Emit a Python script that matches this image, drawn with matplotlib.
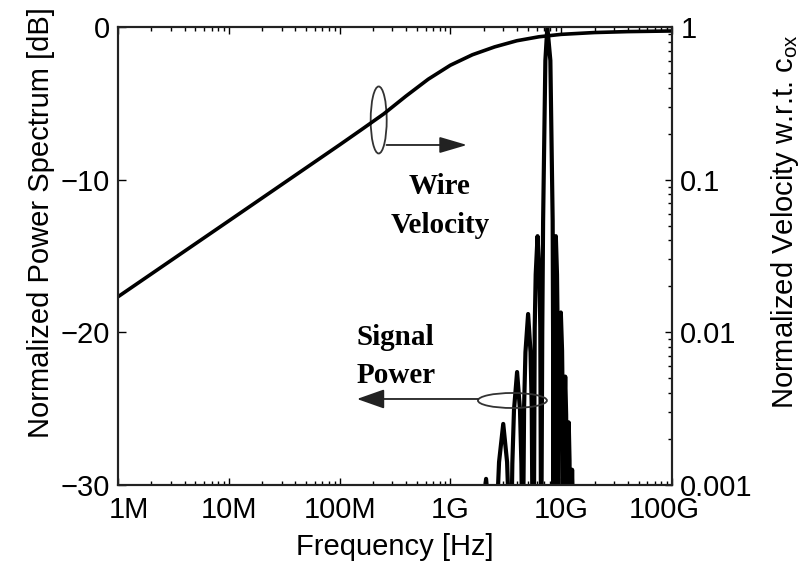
import matplotlib
matplotlib.use('Agg')
import matplotlib.pyplot as plt
from matplotlib.patches import Ellipse
from matplotlib.ticker import NullFormatter
from matplotlib.transforms import ScaledTranslation
import numpy as np

freq_ticks = [1e6, 1e7, 1e8, 1e9, 1e10, 1e11]
freq_labels = ['1M', '10M', '100M', '1G', '10G', '100G']
db_ticks = [-30, -20, -10, 0]
vel_ticks = [0.001, 0.01, 0.1, 1]
vel_labels = ['0.001', '0.01', '0.1', '1']

# wire velocity (normalized to c_ox)
vel_freq = [1e6, 1e7, 1e8, 1.58e8, 2.51e8, 3.98e8, 6.31e8, 1e9, 1.58e9, 2.51e9,
            3.98e9, 6.31e9, 1e10, 2e10, 3.98e10, 1e11]
vel_val = [0.0171, 0.0537, 0.169, 0.213, 0.270, 0.353, 0.455, 0.562, 0.658, 0.741,
           0.813, 0.863, 0.895, 0.920, 0.933, 0.942]

# signal power spectrum lobes [GHz], [dB]
sig_ghz = [1.8, 1.875, 1.95, 2.1, 2.25, 2.325, 2.4,
           2.5, 2.625, 2.75, 3.0, 3.25, 3.375, 3.5,
           3.625, 3.75, 4.0, 4.25, 4.375, 4.5,
           4.63, 4.76, 5.03, 5.29, 5.42, 5.55,
           5.65, 5.77, 5.89, 6.12, 6.36, 6.48, 6.6,
           6.75, 6.87, 7.2, 7.5, 7.99, 8.38, 8.45, 8.5,
           8.61, 8.72, 8.95, 9.17, 9.29, 9.4,
           9.53, 9.66, 9.93, 10.19, 10.32, 10.45,
           10.56, 10.66, 10.88, 11.09, 11.19, 11.3,
           11.4, 11.5, 11.7, 11.9, 12.0, 12.1,
           12.21, 12.33, 12.55, 12.78, 12.89, 13.0]
sig_db = [-36, -35.6, -32.1, -29.6, -32.1, -35.6, -36,
          -36, -32, -28.5, -26, -28.5, -32, -36,
          -28.6, -25.1, -22.6, -25.1, -28.6, -36,
          -24.8, -21.3, -18.8, -21.3, -24.8, -36,
          -36, -19.7, -16.2, -13.7, -16.2, -19.7, -36,
          -20, -12.7, -2.2, 0, -2.2, -12.7, -20, -36,
          -19.7, -16.2, -13.7, -16.2, -19.7, -36,
          -24.7, -21.2, -18.7, -21.2, -24.7, -36,
          -28.9, -25.4, -22.9, -25.4, -28.9, -36,
          -31.9, -28.4, -25.9, -28.4, -31.9, -36,
          -35, -31.5, -29, -31.5, -35, -36]

plt.rcParams['font.family'] = ['Liberation Sans', 'DejaVu Sans']
plt.rcParams['mathtext.default'] = 'regular'
plt.rcParams['font.size'] = 21

fig = plt.figure(figsize=(8.06, 5.65), dpi=100)
ax = fig.add_axes([0.1464, 0.1416, 0.6873, 0.8106])
ax.plot(np.array(sig_ghz) * 1e9, sig_db, color='k', lw=3.0)
ax.set_xscale('log')
ax.set_xlim(1e6, 1e11)
ax.set_ylim(-30, 0)
ax.set_yticks(db_ticks)
ax.set_xticks(freq_ticks)
ax.set_xticklabels(freq_labels)
ax.xaxis.set_minor_formatter(NullFormatter())
ax.tick_params(axis='x', which='both', direction='in', top=True, pad=8, width=1)
ax.tick_params(axis='x', which='major', length=5)
ax.tick_params(axis='x', which='minor', length=3)
ax.tick_params(axis='y', direction='in', length=6, width=1, pad=6)

# first and last frequency labels sit inside the axis ends, as in the original
xl = ax.get_xticklabels()
xl[0].set_transform(xl[0].get_transform() + ScaledTranslation(0.11, 0, fig.dpi_scale_trans))
xl[-1].set_transform(xl[-1].get_transform() + ScaledTranslation(-0.08, 0, fig.dpi_scale_trans))

ax2 = ax.twinx()
ax2.plot(vel_freq, vel_val, color='k', lw=2.6)
ax2.set_yscale('log')
ax2.set_ylim(1e-3, 1)
ax2.set_yticks(vel_ticks)
ax2.set_yticklabels(vel_labels)
ax2.yaxis.set_minor_formatter(NullFormatter())
ax2.tick_params(axis='y', which='both', direction='in', pad=6, width=1)
ax2.tick_params(axis='y', which='major', length=5)
ax2.tick_params(axis='y', which='minor', length=3)

for a in (ax, ax2):
    for s in a.spines.values():
        s.set_linewidth(1.5)
        s.set_color('#222222')

tr = ax2.transAxes
ax2.add_patch(Ellipse((0.4706, 0.797), 0.0289, 0.1463, fill=False, lw=1.3, ec='#333333', transform=tr))
ax2.annotate('', xy=(0.630, 0.7424), xytext=(0.4847, 0.7424), xycoords='axes fraction',
             arrowprops=dict(arrowstyle='-|>,head_length=0.85,head_width=0.25', color='#222222',
                             lw=1.3, mutation_scale=20, shrinkA=0, shrinkB=0))
ax2.add_patch(Ellipse((0.712, 0.1845), 0.1245, 0.0328, fill=False, lw=1.3, ec='#333333', transform=tr))
ax2.annotate('', xy=(0.4314, 0.1878), xytext=(0.650, 0.1878), xycoords='axes fraction',
             arrowprops=dict(arrowstyle='-|>,head_length=0.85,head_width=0.3', color='#222222',
                             lw=1.3, mutation_scale=20, shrinkA=0, shrinkB=0))

serif = dict(family=['Liberation Serif', 'DejaVu Serif'], weight='bold', size=21, transform=tr)
ax2.text(0.581, 0.6354, 'Wire', ha='center', va='baseline', **serif)
ax2.text(0.581, 0.550, 'Velocity', ha='center', va='baseline', **serif)
ax2.text(0.4314, 0.3057, 'Signal', ha='left', va='baseline', **serif)
ax2.text(0.4314, 0.2220, 'Power', ha='left', va='baseline', **serif)

fig.text(0.490, 0.0177, 'Frequency [Hz]', ha='center', va='baseline')
fig.text(0.0509, 0.606, 'Normalized Power Spectrum [dB]', rotation=90, ha='center', va='center')
fig.text(0.974, 0.607, 'Normalized Velocity w.r.t. c$_{ox}$', rotation=90, ha='center', va='center')

fig.savefig('out.png', dpi=100)
